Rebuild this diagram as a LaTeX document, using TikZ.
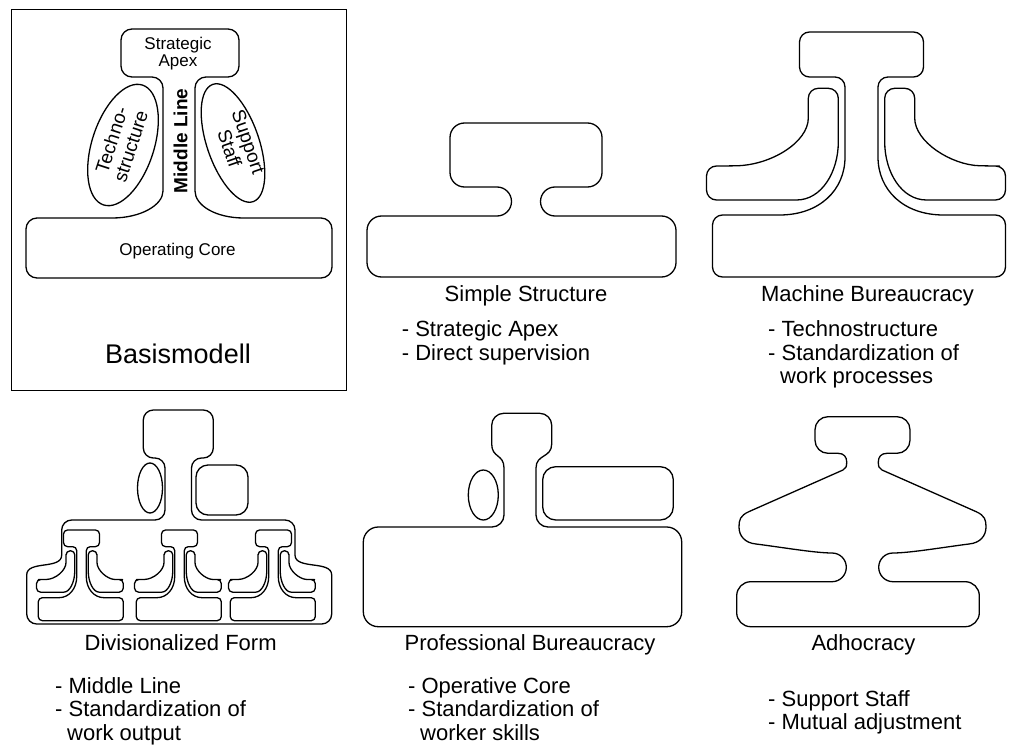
\documentclass[tikz,border=0pt]{standalone}
\usepackage{fontspec}
\setmainfont{Liberation Sans}

\tikzset{
  unit/.style={line width=1.3pt, line join=round, line cap=round},
  frame/.style={line width=1pt},
  typename/.style={font=\fontsize{22}{24}\selectfont, anchor=base, inner sep=0pt},
  point/.style={font=\fontsize{22}{24}\selectfont, anchor=base west, inner sep=0pt},
  part/.style={font=\fontsize{17}{19}\selectfont, inner sep=0pt, align=center},
}

% machine bureaucracy, local units, origin = top of the middle line
\def\machine#1{%
  \draw[unit, rounded corners=#1] (0,0) -- (62,0) -- (62,45) -- (16.5,45) -- (16.5,115) .. controls (16.5,158) and (42,183) .. (92,183) -- (144,183) -- (144,245) -- (-149,245) -- (-149,183) -- (-92,183) .. controls (-42,183) and (-16.5,158) .. (-16.5,115) -- (-16.5,45) -- (-62,45) -- (-62,0) -- cycle;
  \draw[unit, rounded corners=#1] (-23.2,80) -- (-23.2,56.3) -- (-53.2,56.3) -- (-53.2,76) .. controls (-53.2,110) and (-90,133) .. (-135,134) -- (-155,134) -- (-155,168) -- (-75,168) .. controls (-40,168) and (-23.2,140) .. (-23.2,100) -- cycle;
  \draw[unit, rounded corners=#1] (23.2,80) -- (23.2,56.3) -- (53.2,56.3) -- (53.2,76) .. controls (53.2,110) and (90,133) .. (128,134) -- (144,134) -- (144,168) -- (75,168) .. controls (40,168) and (23.2,140) .. (23.2,100) -- cycle;
}

\begin{document}
\begin{tikzpicture}[x=1pt, y=-1pt]
\useasboundingbox (0,0) rectangle (1009,749);

%%% Basismodell
\draw[frame] (11.7,10) rectangle (346.7,390);
\draw[unit, rounded corners=11pt] (180,29) -- (239,29) -- (239,77) -- (195,77) -- (195,180) .. controls (195,205) and (215,218) .. (255,218) -- (332,218) -- (332,278) -- (26,278) -- (26,218) -- (101,218) .. controls (141,218) and (163,205) .. (163,180) -- (163,77) -- (121,77) -- (121,29) -- cycle;
\draw[unit, rotate around={-18:(123,145)}] (123,145) ellipse [x radius=31, y radius=63];
\draw[unit, rotate around={19:(233,143)}] (233,143) ellipse [x radius=26, y radius=62];

\node[part, anchor=base] (ba-apex1) at (178,50) {Strategic};
\node[part, anchor=base] (ba-apex2) at (178,67) {Apex};
\node[part, font=\fontsize{19}{20}\selectfont, rotate=72] (ba-tech) at (121,143) {Techno-\\structure};
\node[part, font=\fontsize{19}{21}\selectfont\bfseries, rotate=90] (ba-mid) at (180.5,141) {Middle Line};
\node[part, font=\fontsize{19}{20}\selectfont, rotate=-71] (ba-supp) at (239,145) {Support\\Staff};
\node[part, anchor=base] (ba-core) at (177.5,255) {Operating Core};
\node[typename, font=\fontsize{27}{30}\selectfont] (ba-name) at (178,363) {Basismodell};

%%% Simple Structure
\draw[unit, rounded corners=14.5pt] (526,123) -- (602,123) -- (602,187) -- (540.5,187) -- (540.5,216) -- (676,216) -- (676,277) -- (367,277) -- (367,216) -- (511.5,216) -- (511.5,187) -- (450,187) -- (450,123) -- cycle;
\node[typename] (ss-name) at (526,301.7) {Simple Structure};
\node[point] (ss-1) at (401.7,336.7) {- Strategic Apex};
\node[point] (ss-2) at (401.7,360) {- Direct supervision};

%%% Machine Bureaucracy
\begin{scope}[shift={(861.5,32)}]
  \machine{10pt}
\end{scope}
\node[typename] (mb-name) at (867.5,301.7) {Machine Bureaucracy};
\node[point] (mb-1) at (768,336.7) {- Technostructure};
\node[point] (mb-2) at (768,360) {- Standardization of};
\node[point] (mb-3) at (780,383.3) {work processes};

%%% Divisionalized Form
\draw[unit, rounded corners=10pt] (178,410) -- (213.3,410) -- (213.3,458) -- (191.5,458) -- (191.5,520) -- (295,520) -- (295,545) .. controls (295,570) and (331.7,560) .. (331.7,585) -- (331.7,624) -- (26.7,624) -- (26.7,585) .. controls (26.7,560) and (61.7,570) .. (61.7,545) -- (61.7,520) -- (165,520) -- (165,458) -- (143.3,458) -- (143.3,410) -- cycle;
\draw[unit] (150,488) ellipse [x radius=12.5, y radius=25];
\draw[unit, rounded corners=12pt] (196,465) rectangle (248,515);
\foreach \cx in {81.5,179.5,273.5}{
  \begin{scope}[shift={(\cx,530)}, xscale=0.29, yscale=0.37]
    \machine{4pt}
  \end{scope}
}
\node[typename] (df-name) at (180.7,650) {Divisionalized Form};
\node[point] (df-1) at (55,693) {- Middle Line};
\node[point] (df-2) at (55,716.7) {- Standardization of};
\node[point] (df-3) at (67,740) {work output};

%%% Professional Bureaucracy
\draw[unit] (521.7,413.3) -- (539.7,413.3) .. controls (546.3,413.3) and (551.7,418.7) .. (551.7,425.3) -- (551.7,444) .. controls (551.7,458) and (536,454) .. (536,468) -- (536,515) .. controls (536,521.6) and (541.4,527) .. (548,527) -- (666.7,527) .. controls (675,527) and (681.7,533.7) .. (681.7,542) -- (681.7,611.7) .. controls (681.7,620) and (675,626.7) .. (666.7,626.7) -- (378.3,626.7) .. controls (370,626.7) and (363.3,620) .. (363.3,611.7) -- (363.3,542) .. controls (363.3,533.7) and (370,527) .. (378.3,527) -- (492,527) .. controls (498.6,527) and (504,521.6) .. (504,515) -- (504,468) .. controls (504,454) and (491.7,458) .. (491.7,444) -- (491.7,425.3) .. controls (491.7,418.7) and (497.1,413.3) .. (503.7,413.3) -- cycle;
\draw[unit] (483.3,495) ellipse [x radius=15, y radius=25];
\draw[unit, rounded corners=13pt] (542.7,466.7) rectangle (673.3,520);
\node[typename] (pb-name) at (530,650) {Professional Bureaucracy};
\node[point] (pb-1) at (408,693) {- Operative Core};
\node[point] (pb-2) at (408,716.7) {- Standardization of};
\node[point] (pb-3) at (420,740) {worker skills};

%%% Adhocracy
\draw[unit] (862.5,416.7) -- (897,416.7) .. controls (904.2,416.7) and (910,422.5) .. (910,429.7) -- (910,440.3) .. controls (910,447.5) and (904.2,453.3) .. (897,453.3) -- (887,453.3) .. controls (881,453.3) and (878.3,457) .. (878.3,462) .. controls (878.3,466.5) and (879,468.5) .. (882,470) -- (976,511.6) .. controls (985,515.6) and (986,520) .. (986,527) .. controls (986,536) and (980,543) .. (969,544) .. controls (945,547) and (910,553) .. (893,553) .. controls (885,553) and (878.7,559.4) .. (878.7,567.3) .. controls (878.7,575.2) and (885,581.7) .. (893,581.7) -- (965.3,581.7) .. controls (973,581.7) and (979.3,588) .. (979.3,595.7) -- (979.3,612.7) .. controls (979.3,620.4) and (973,626.7) .. (965.3,626.7) -- (750.7,626.7) .. controls (743,626.7) and (736.7,620.4) .. (736.7,612.7) -- (736.7,595.7) .. controls (736.7,588) and (743,581.7) .. (750.7,581.7) -- (832,581.7) .. controls (840,581.7) and (846.3,575.2) .. (846.3,567.3) .. controls (846.3,559.4) and (840,553) .. (832,553) .. controls (815,553) and (780,547) .. (756,544) .. controls (745,543) and (739,536) .. (739,527) .. controls (739,520) and (740,515.6) .. (749,511.6) -- (843,470) .. controls (846,468.5) and (846.7,466.5) .. (846.7,462) .. controls (846.7,457) and (844,453.3) .. (838,453.3) -- (828,453.3) .. controls (820.8,453.3) and (815,447.5) .. (815,440.3) -- (815,429.7) .. controls (815,422.5) and (820.8,416.7) .. (828,416.7) -- cycle;
\node[typename] (ad-name) at (863.5,650) {Adhocracy};
\node[point] (ad-1) at (768,706) {- Support Staff};
\node[point] (ad-2) at (768,729.5) {- Mutual adjustment};
\end{tikzpicture}
\end{document}
